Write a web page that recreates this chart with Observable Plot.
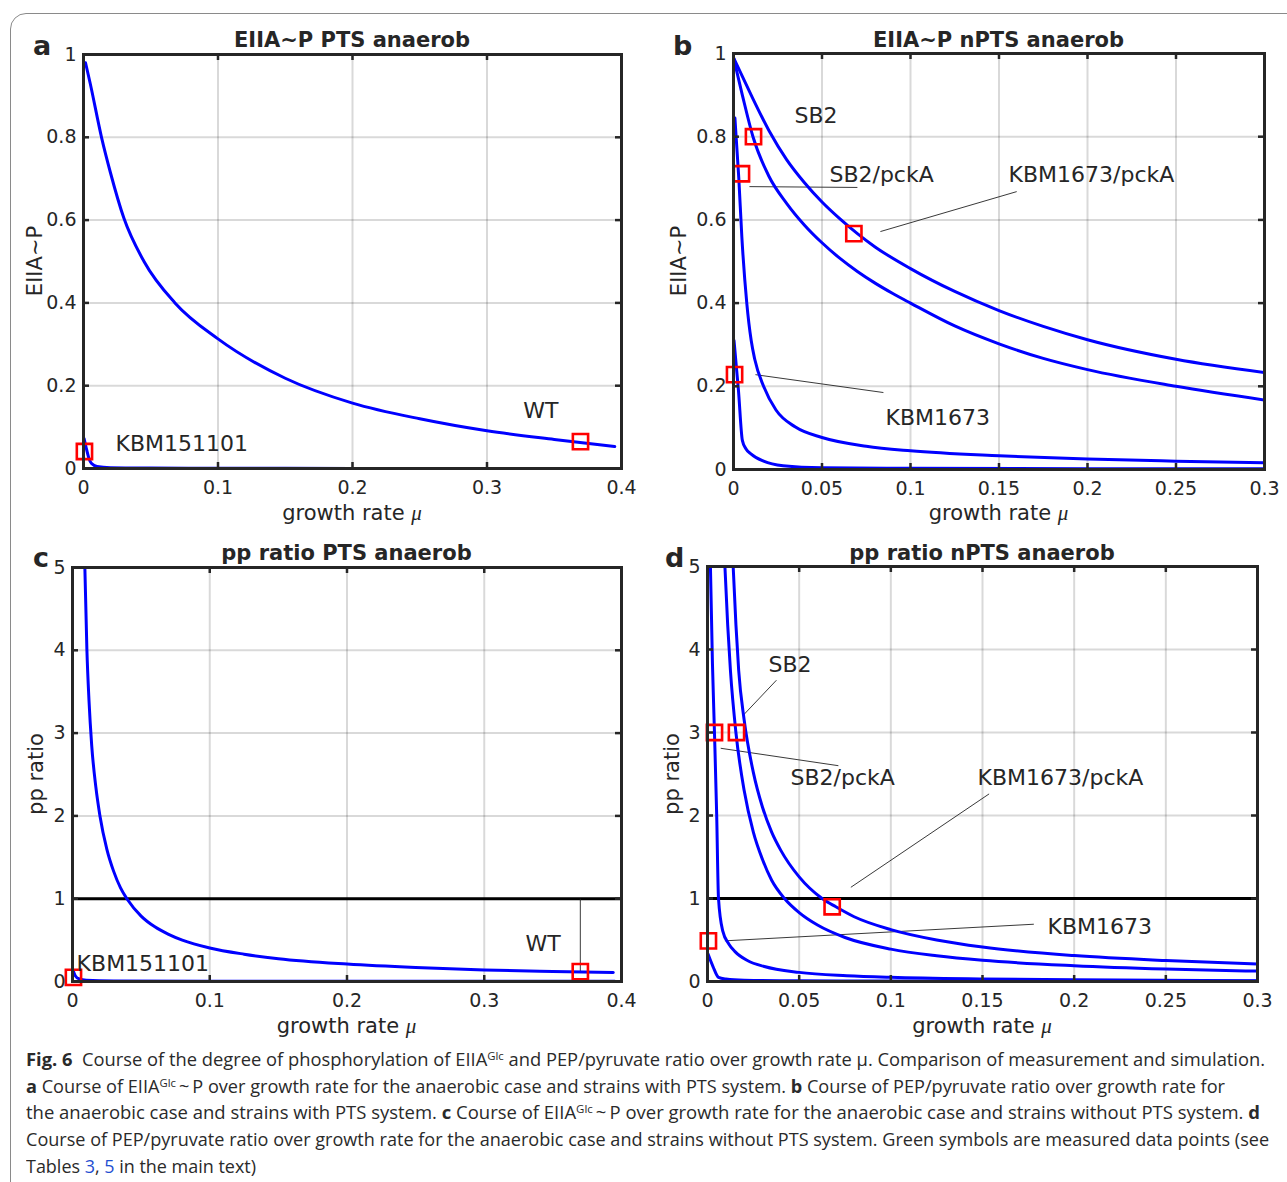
<!DOCTYPE html>
<html><head><meta charset="utf-8">
<script src="https://cdn.jsdelivr.net/npm/d3@7"></script>
<script src="https://cdn.jsdelivr.net/npm/@observablehq/plot@0.6"></script>
<style>
html,body{margin:0;padding:0;background:#fff;}
body{width:1287px;height:1182px;overflow:hidden;position:relative;font-family:"DejaVu Sans",sans-serif;color:#262626;}
.abs{position:absolute;white-space:nowrap;}
.title{font-weight:bold;font-size:21px;line-height:24px;text-align:center;width:500px;}
.letter{font-weight:bold;font-size:27px;line-height:27px;}
.xlab{font-size:21px;line-height:24px;text-align:center;width:400px;}
.ylab{font-size:21px;line-height:24px;text-align:center;width:300px;transform:rotate(-90deg);}
.mu{font-family:"Liberation Serif",serif;font-style:italic;}
.frameBox{position:absolute;left:10px;top:13px;width:1320px;height:1220px;border:1.5px solid #8a8a8a;border-radius:16px;}
.cap{position:absolute;left:26px;font-family:"Open Sans","Noto Sans",sans-serif;font-size:18px;line-height:24px;color:#2a2a2a;white-space:nowrap;transform-origin:0 50%;}
.cap sup{font-size:0.62em;line-height:0;vertical-align:0.55em;}
.cap .ref{color:#1f4fd1;}
</style></head><body>
<div class="frameBox"></div>
<script>
// ---------- tick labels ----------
const ticksX04 = [0, 0.1, 0.2, 0.3, 0.4];
const ticksX03 = [0, 0.05, 0.1, 0.15, 0.2, 0.25, 0.3];
const ticksY1 = [0, 0.2, 0.4, 0.6, 0.8, 1];
const ticksY5 = [0, 1, 2, 3, 4, 5];

// ---------- panel a : EIIA~P PTS anaerob ----------
const aWT = [[0.0015,0.98],[0.005,0.93],[0.0134,0.8],[0.02,0.715],[0.03,0.605],[0.045,0.5],[0.068,0.4],[0.1,0.313],[0.15,0.218],[0.2,0.158],[0.25,0.12],[0.3,0.091],[0.35,0.07],[0.395,0.053]];
const aKBM151101 = [[0.0005,0.072],[0.002,0.05],[0.004,0.025],[0.006,0.012],[0.01,0.005],[0.02,0.002],[0.05,0.001],[0.1,0.0005],[0.2,0.0003],[0.395,0.0002]];
const aMarkers = [[0.3695,0.065],[0.0007,0.041]];
const aLabels = [["WT",0.327,0.14],["KBM151101",0.0238,0.06]];
const aLeaders = [];

// ---------- panel b : EIIA~P nPTS anaerob ----------
const bKBM1673pckA = [[0,0.99],[0.005,0.945],[0.01,0.9],[0.02,0.815],[0.03,0.745],[0.04,0.69],[0.05,0.643],[0.06,0.603],[0.07,0.567],[0.08,0.535],[0.1,0.483],[0.125,0.428],[0.15,0.382],[0.175,0.344],[0.2,0.312],[0.25,0.265],[0.3,0.233]];
const bSB2 = [[0,0.99],[0.005,0.9],[0.011,0.8],[0.02,0.705],[0.03,0.64],[0.04,0.588],[0.05,0.545],[0.06,0.508],[0.07,0.476],[0.08,0.448],[0.09,0.423],[0.1,0.4],[0.125,0.345],[0.15,0.302],[0.175,0.267],[0.2,0.24],[0.25,0.2],[0.3,0.167]];
const bSB2pckA = [[0.0008,0.845],[0.003,0.7],[0.0047,0.56],[0.0075,0.4],[0.01,0.31],[0.012,0.265],[0.017,0.2],[0.024,0.143],[0.035,0.102],[0.05,0.077],[0.075,0.056],[0.1,0.045],[0.15,0.033],[0.2,0.025],[0.25,0.02],[0.3,0.016]];
const bKBM1673 = [[0.0003,0.31],[0.0028,0.19],[0.005,0.07],[0.007,0.05],[0.01,0.037],[0.017,0.02],[0.028,0.009],[0.05,0.004],[0.1,0.003],[0.2,0.002],[0.3,0.002]];
const bMarkers = [[0.0113,0.8],[0.0045,0.711],[0.068,0.567],[0.0006,0.228]];
const bLabels = [["SB2",0.0345,0.851],["SB2/pckA",0.0542,0.707],["KBM1673/pckA",0.1554,0.707],["KBM1673",0.0859,0.125]];
const bLeaders = [[0.009,0.68,0.07,0.678],[0.16,0.668,0.083,0.572],[0.0847,0.185,0.0124,0.228]];

// ---------- panel c : pp ratio PTS anaerob ----------
const cWT = [[0.009,5],[0.0105,4],[0.012,3.4],[0.014,2.85],[0.017,2.35],[0.02,2.0],[0.025,1.6],[0.03,1.33],[0.035,1.13],[0.04,0.99],[0.05,0.79],[0.06,0.66],[0.07,0.57],[0.08,0.5],[0.1,0.405],[0.125,0.33],[0.15,0.275],[0.2,0.21],[0.25,0.168],[0.3,0.139],[0.35,0.122],[0.394,0.11]];
const cKBM151101 = [[0.0005,0.13],[0.002,0.07],[0.005,0.03],[0.01,0.015],[0.03,0.006],[0.1,0.003],[0.395,0.002]];
const cMarkers = [[0.37,0.12],[0.0007,0.05]];
const cLabels = [["WT",0.33,0.459],["KBM151101",0.003,0.217]];
const cLeaders = [[0.37,0.12,0.37,1.0]];
const cRefLine = [1];

// ---------- panel d : pp ratio nPTS anaerob ----------
const dSB2pckA = [[0.0016,5],[0.0027,3.83],[0.0038,3],[0.005,2.02],[0.006,1.0],[0.0083,0.61],[0.0117,0.45],[0.015,0.36],[0.022,0.25],[0.031,0.18],[0.05,0.11],[0.076,0.07],[0.1,0.05],[0.15,0.03],[0.2,0.02],[0.3,0.01]];
const dSB2 = [[0.0095,5],[0.011,4.3],[0.0125,3.75],[0.0155,3.0],[0.02,2.3],[0.025,1.8],[0.03,1.47],[0.035,1.22],[0.042,1.0],[0.05,0.83],[0.06,0.68],[0.075,0.53],[0.1,0.39],[0.125,0.31],[0.15,0.255],[0.2,0.19],[0.25,0.15],[0.3,0.125]];
const dKBM1673pckA = [[0.014,5],[0.0155,4.3],[0.017,3.75],[0.02,3.15],[0.025,2.52],[0.03,2.1],[0.035,1.8],[0.04,1.58],[0.05,1.26],[0.0625,1.0],[0.07,0.9],[0.08,0.78],[0.1,0.625],[0.125,0.5],[0.15,0.415],[0.2,0.312],[0.25,0.252],[0.3,0.21]];
const dKBM1673 = [[0.0003,0.33],[0.003,0.18],[0.006,0.05],[0.01,0.03],[0.02,0.015],[0.05,0.008],[0.1,0.006],[0.3,0.005]];
const dMarkers = [[0.0158,3.0],[0.0038,3.0],[0.068,0.9],[0.0005,0.49]];
const dLabels = [["SB2",0.0333,3.81],["SB2/pckA",0.0453,2.45],["KBM1673/pckA",0.1473,2.45],["KBM1673",0.1855,0.66]];
const dLeaders = [[0.0376,3.63,0.0196,3.21],[0.0072,2.81,0.0714,2.6],[0.1536,2.26,0.0782,1.135],[0.178,0.69,0.0095,0.49]];
const dRefLine = [1];

// ---------- caption ----------
const captionLines = [
  '<b>Fig. 6</b>&nbsp; Course of the degree of phosphorylation of EIIA<sup>Glc</sup> and PEP/pyruvate ratio over growth rate μ. Comparison of measurement and simulation.',
  '<b>a</b> Course of EIIA<sup>Glc</sup>&thinsp;~&thinsp;P over growth rate for the anaerobic case and strains with PTS system. <b>b</b> Course of PEP/pyruvate ratio over growth rate for',
  'the anaerobic case and strains with PTS system. <b>c</b> Course of EIIA<sup>Glc</sup>&thinsp;~&thinsp;P over growth rate for the anaerobic case and strains without PTS system. <b>d</b>',
  'Course of PEP/pyruvate ratio over growth rate for the anaerobic case and strains without PTS system. Green symbols are measured data points (see',
  'Tables <span class="ref">3</span>, <span class="ref">5</span> in the main text)'
];
const captionRight = [1265, 1225, 1260, 1269, 256];
const captionCenterY = [1059, 1086, 1112, 1139, 1166];

// ---------- helpers ----------
const rows = (pairs, series) => pairs.map(([x, y]) => ({x, y, series}));
const pts = pairs => pairs.map(([x, y]) => ({x, y}));
const labs = arr => arr.map(([text, x, y]) => ({text, x, y}));
const links = arr => arr.map(([x1, y1, x2, y2]) => ({x1, y1, x2, y2}));
const FONT = '"DejaVu Sans", sans-serif';

function addDiv(cls, html, style) {
  const d = document.createElement("div");
  d.className = "abs " + cls;
  d.innerHTML = html;
  Object.assign(d.style, style);
  document.body.appendChild(d);
  return d;
}

function drawPanel(cfg) {
  const {left, top, right, bottom, xDomain, yDomain, xTicks, yTicks, curves, markers, labels, leaders, refLine} = cfg;
  const mL = 60, mR = 20, mT = 12, mB = 45;
  const fw = right - left, fh = bottom - top, tl = 6;
  const inner = a => a.slice(1, -1);
  const tickStyle = {stroke: "#262626", strokeWidth: 2.5};
  const plot = Plot.plot({
    width: fw + mL + mR, height: fh + mT + mB,
    marginLeft: mL, marginRight: mR, marginTop: mT, marginBottom: mB,
    x: {domain: xDomain}, y: {domain: yDomain},
    style: {fontFamily: FONT, fontSize: "19px", color: "#262626", background: "transparent", overflow: "visible"},
    marks: [
      Plot.gridX(inner(xTicks), {stroke: "#000", strokeOpacity: 0.15, strokeWidth: 2}),
      Plot.gridY(inner(yTicks), {stroke: "#000", strokeOpacity: 0.15, strokeWidth: 2}),
      refLine ? Plot.ruleY(refLine, {stroke: "#000", strokeWidth: 3}) : null,
      Plot.link(links(leaders), {x1: "x1", y1: "y1", x2: "x2", y2: "y2", stroke: "#222", strokeWidth: 0.9}),
      Plot.line(curves, {x: "x", y: "y", z: "series", stroke: "#0000ff", strokeWidth: 3, curve: "monotone-x", clip: true}),
      Plot.dot(pts(markers), {x: "x", y: "y", symbol: "square", r: 8.6, stroke: "#ff0000", strokeWidth: 2.6, fill: "none"}),
      Plot.text(labs(labels), {x: "x", y: "y", text: "text", textAnchor: "start", fontSize: 22, fill: "#262626"}),
      Plot.tickX(inner(xTicks), {x: d => d, ...tickStyle, insetTop: fh - tl}),
      Plot.tickX(inner(xTicks), {x: d => d, ...tickStyle, insetBottom: fh - tl}),
      Plot.tickY(inner(yTicks), {y: d => d, ...tickStyle, insetLeft: fw - tl}),
      Plot.tickY(inner(yTicks), {y: d => d, ...tickStyle, insetRight: fw - tl}),
      Plot.frame({stroke: "#262626", strokeWidth: 3}),
      Plot.axisX(xTicks, {tickSize: 0, tickPadding: 12, tickFormat: d => String(d), label: null, fontSize: 19, fill: "#262626"}),
      Plot.axisY(yTicks, {tickSize: 0, tickPadding: 7, tickFormat: d => String(d), label: null, fontSize: 19, fill: "#262626"})
    ]
  });
  plot.style.position = "absolute";
  plot.style.left = (left - mL) + "px";
  plot.style.top = (top - mT) + "px";
  document.body.appendChild(plot);

  const cx = (left + right) / 2, cy = (top + bottom) / 2;
  addDiv("title", cfg.title, {left: (cx - 250) + "px", top: cfg.titleTop + "px"});
  addDiv("letter", cfg.letter, {left: cfg.letterLeft + "px", top: cfg.letterTop + "px"});
  addDiv("xlab", 'growth rate <span class="mu">μ</span>', {left: (cx - 200) + "px", top: cfg.xlabTop + "px"});
  addDiv("ylab", cfg.ylab, {left: (cfg.ylabX - 150) + "px", top: (cy - 12) + "px"});
}

drawPanel({
  left: 83, top: 54, right: 621, bottom: 468, xDomain: [0, 0.4], yDomain: [0, 1], xTicks: ticksX04, yTicks: ticksY1,
  curves: [...rows(aWT, "WT"), ...rows(aKBM151101, "KBM151101")],
  markers: aMarkers, labels: aLabels, leaders: aLeaders,
  title: "EIIA~P PTS anaerob", titleTop: 28, letter: "a", letterLeft: 33, letterTop: 32, xlabTop: 501, ylab: "EIIA~P", ylabX: 35
});
drawPanel({
  left: 733, top: 53, right: 1264, bottom: 469, xDomain: [0, 0.3], yDomain: [0, 1], xTicks: ticksX03, yTicks: ticksY1,
  curves: [...rows(bKBM1673pckA, "KBM1673/pckA"), ...rows(bSB2, "SB2"), ...rows(bSB2pckA, "SB2/pckA"), ...rows(bKBM1673, "KBM1673")],
  markers: bMarkers, labels: bLabels, leaders: bLeaders,
  title: "EIIA~P nPTS anaerob", titleTop: 28, letter: "b", letterLeft: 673, letterTop: 32, xlabTop: 501, ylab: "EIIA~P", ylabX: 679
});
drawPanel({
  left: 72, top: 567, right: 621, bottom: 981, xDomain: [0, 0.4], yDomain: [0, 5], xTicks: ticksX04, yTicks: ticksY5,
  curves: [...rows(cWT, "WT"), ...rows(cKBM151101, "KBM151101")],
  markers: cMarkers, labels: cLabels, leaders: cLeaders, refLine: cRefLine,
  title: "pp ratio PTS anaerob", titleTop: 541, letter: "c", letterLeft: 33, letterTop: 544, xlabTop: 1014, ylab: "pp ratio", ylabX: 36
});
drawPanel({
  left: 707, top: 566, right: 1257, bottom: 981, xDomain: [0, 0.3], yDomain: [0, 5], xTicks: ticksX03, yTicks: ticksY5,
  curves: [...rows(dSB2pckA, "SB2/pckA"), ...rows(dSB2, "SB2"), ...rows(dKBM1673pckA, "KBM1673/pckA"), ...rows(dKBM1673, "KBM1673")],
  markers: dMarkers, labels: dLabels, leaders: dLeaders, refLine: dRefLine,
  title: "pp ratio nPTS anaerob", titleTop: 541, letter: "d", letterLeft: 665, letterTop: 544, xlabTop: 1014, ylab: "pp ratio", ylabX: 672
});

// caption lines, each stretched to the reference line width
captionLines.forEach((html, i) => {
  const d = document.createElement("div");
  d.className = "cap";
  d.innerHTML = html;
  d.style.top = (captionCenterY[i] - 12) + "px";
  document.body.appendChild(d);
  const w = d.getBoundingClientRect().width;
  const target = captionRight[i] - 26;
  d.style.transform = "scaleX(" + (target / w).toFixed(4) + ")";
});
</script>
</body></html>
